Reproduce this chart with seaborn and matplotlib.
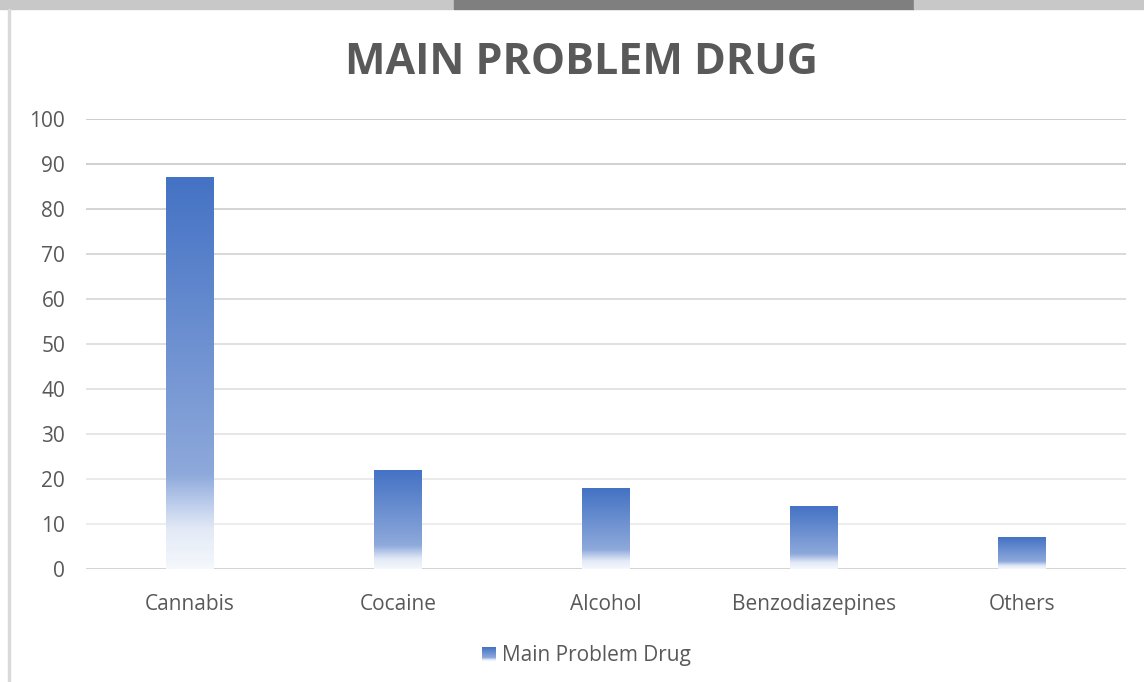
import numpy as np
import pandas as pd
import seaborn as sns
import matplotlib.pyplot as plt
from matplotlib.colors import LinearSegmentedColormap
from matplotlib.patches import Rectangle

# values
drugs = ['Cannabis', 'Cocaine', 'Alcohol', 'Benzodiazepines', 'Others']
counts = [87, 22, 18, 14, 7]
y_ticks = [0, 10, 20, 30, 40, 50, 60, 70, 80, 90, 100]
series_name = 'Main Problem Drug'
title = 'MAIN PROBLEM DRUG'

sns.set_style('white')
plt.rcParams['font.family'] = ['Open Sans', 'DejaVu Sans']
text_col = '#595959'

# white at the bottom, fading into the office blue towards the top
fade = LinearSegmentedColormap.from_list('fade', [
    (0.0, '#f5f8fc'), (0.1, '#e3eaf6'), (0.18, '#b3c6e8'),
    (0.24, '#8ea9db'), (1.0, '#4472c4')])
grad = np.linspace(0, 1, 256).reshape(-1, 1)

W, H = 1144, 682
fig = plt.figure(figsize=(W / 100, H / 100), dpi=100)
ax = fig.add_axes([86 / W, 1 - 569 / H, 1040 / W, 450 / H])

df = pd.DataFrame({'drug': drugs, 'count': counts})
sns.barplot(data=df, x='drug', y='count', ax=ax, width=0.226,
            color='#4472c4', saturation=1)

# swap each flat bar for a gradient image
for p in ax.patches:
    x0, w, h = p.get_x(), p.get_width(), p.get_height()
    ax.imshow(grad, extent=[x0, x0 + w, 0, h], origin='lower',
              aspect='auto', cmap=fade, zorder=3, interpolation='bilinear')
    p.set_visible(False)

# gridlines get lighter towards the bottom, like in the source export
for t in y_ticks:
    shade = 0.79 + 0.15 * (1 - t / 100) if t > 0 else 0.82
    ax.axhline(t, color=str(shade), lw=1.3, zorder=1)

ax.set_xlim(-0.5, len(drugs) - 0.5)
ax.set_ylim(0, 100)
ax.set_yticks(y_ticks)
ax.set_xlabel('')
ax.set_ylabel('')
sns.despine(ax=ax, left=True, bottom=True)
ax.tick_params(axis='both', length=0, labelsize=15, labelcolor=text_col)
ax.tick_params(axis='y', pad=15)
ax.tick_params(axis='x', pad=18)

fig.text(581 / W, 1 - 62 / H, title, ha='center', va='center', fontsize=31,
         weight='bold', color=text_col)

# legend: small gradient square plus label
lax = fig.add_axes([482 / W, 1 - 661 / H, 14 / W, 14 / H])
lax.imshow(grad, origin='lower', aspect='auto', cmap=fade,
           extent=[0, 1, 0, 1])
lax.axis('off')
fig.text(502 / W, 1 - 656 / H, series_name, ha='left', va='center',
         fontsize=15, color=text_col)

# frame bits around the chart
fig.patches.append(Rectangle((0, 1 - 9 / H), 454 / W, 9 / H, color='#c8c8c8',
                             transform=fig.transFigure))
fig.patches.append(Rectangle((454 / W, 1 - 9 / H), 460 / W, 9 / H,
                             color='#7f7f7f', transform=fig.transFigure))
fig.patches.append(Rectangle((914 / W, 1 - 9 / H), 230 / W, 9 / H,
                             color='#c8c8c8', transform=fig.transFigure))
fig.patches.append(Rectangle((8 / W, 0), 2 / W, 1 - 9 / H, color='#d9d9d9',
                             transform=fig.transFigure))

fig.savefig('out.png', dpi=100)
